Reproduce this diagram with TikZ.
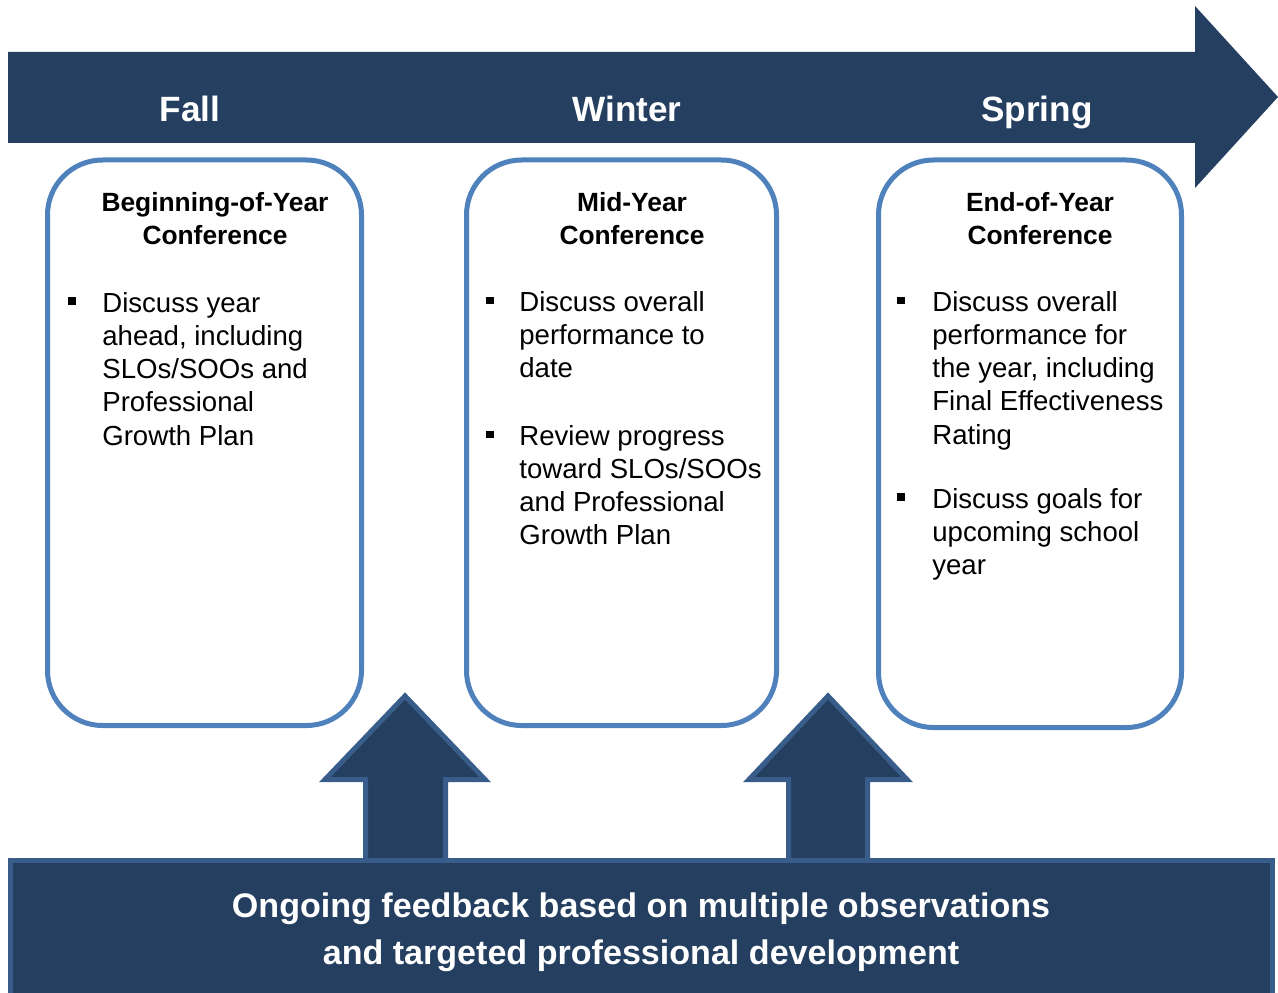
\documentclass[tikz,border=0pt]{standalone}
\usepackage{fontspec}
\setmainfont{Liberation Sans}
\usetikzlibrary{calc}

\definecolor{navy}{HTML}{243F60}
\definecolor{rimblue}{HTML}{385D8A}
\definecolor{boxblue}{HTML}{4F81BD}

\begin{document}
\begin{tikzpicture}[x=0.02cm, y=-0.02cm,
  season/.style={text=white, anchor=base, inner sep=0pt, font=\fontsize{20}{24}\selectfont\bfseries},
  conftitle/.style={align=center, anchor=north, inner sep=0pt, font=\fontsize{15}{18.7}\selectfont\bfseries},
  itemtext/.style={align=left, anchor=north west, inner sep=0pt, font=\fontsize{15.7}{18.9}\selectfont},
  bulletsq/.style={fill=black, minimum size=0.155cm, inner sep=0pt},
  confbox/.style={draw=boxblue, line width=0.1cm, rounded corners=1.1cm, fill=white},
  feedarrow/.style={fill=navy, draw=rimblue, line width=0.1cm, line join=miter}]

   \useasboundingbox (0,0) rectangle (1278,993);

   \coordinate (F) at (190,121.5);
   \coordinate (W) at (627,121.5);
   \coordinate (S) at (1037,121.5);

    % Draw the season arrow
    \fill[navy] (8,52) -- (1195,52) -- (1195,6) -- (1278,97) -- (1195,188) -- (1195,143) -- (8,143) -- cycle;

    % Label the seasons
    \node[season] (fall) at (F) {Fall};
    \node[season] (winter) at (W) {Winter};
    \node[season] (spring) at (S) {Spring};

    % Draw the conference boxes
    \draw[confbox] (47.5,160) rectangle (361.5,725.5);
    \draw[confbox] (466.5,160) rectangle (776.5,725.5);
    \draw[confbox] (878.5,160) rectangle (1181.5,727.5);

    % Box titles
    \node[conftitle] (boy) at (215,192) {Beginning-of-Year\\Conference};
    \node[conftitle] (mid) at (632,192) {Mid-Year\\Conference};
    \node[conftitle] (eoy) at (1040,192) {End-of-Year\\Conference};

    % Bullet items
    \node[bulletsq] (boyb) at (72,301) {};
    \node[itemtext] (boyi) at (102,292) {Discuss year\\ahead, including\\SLOs/SOOs and\\Professional\\Growth Plan};

    \node[bulletsq] (midb1) at (490,300.5) {};
    \node[itemtext] (midi1) at (519,291) {Discuss overall\\performance to\\date};
    \node[bulletsq] (midb2) at (490,434.5) {};
    \node[itemtext] (midi2) at (519,425) {Review progress\\toward SLOs/SOOs\\and Professional\\Growth Plan};

    \node[bulletsq] (eoyb1) at (901,300.5) {};
    \node[itemtext] (eoyi1) at (932,291) {Discuss overall\\performance for\\the year, including\\Final Effectiveness\\Rating};
    \node[bulletsq] (eoyb2) at (901,497) {};
    \node[itemtext] (eoyi2) at (932,488) {Discuss goals for\\upcoming school\\year};

    % Draw the feedback arrows
    \draw[feedarrow] (365.5,860) -- (365.5,779.5) -- (325,779.5) -- (405,696) -- (485,779.5) -- (445.5,779.5) -- (445.5,860);
    \draw[feedarrow] (788.5,860) -- (788.5,779.5) -- (749,779.5) -- (828,696) -- (907,779.5) -- (867.5,779.5) -- (867.5,860);

    % Draw the feedback banner
    \fill[navy] (8,858) rectangle (1275,993);
    \draw[rimblue, line width=0.1cm] (10.5,996) -- (10.5,860.5) -- (1272.5,860.5) -- (1272.5,996);
    \node[text=white, align=center, font=\fontsize{19.4}{26.6}\selectfont\bfseries] (feed) at (641,932) {Ongoing feedback based on multiple observations\\and targeted professional development};

\end{tikzpicture}
\end{document}
